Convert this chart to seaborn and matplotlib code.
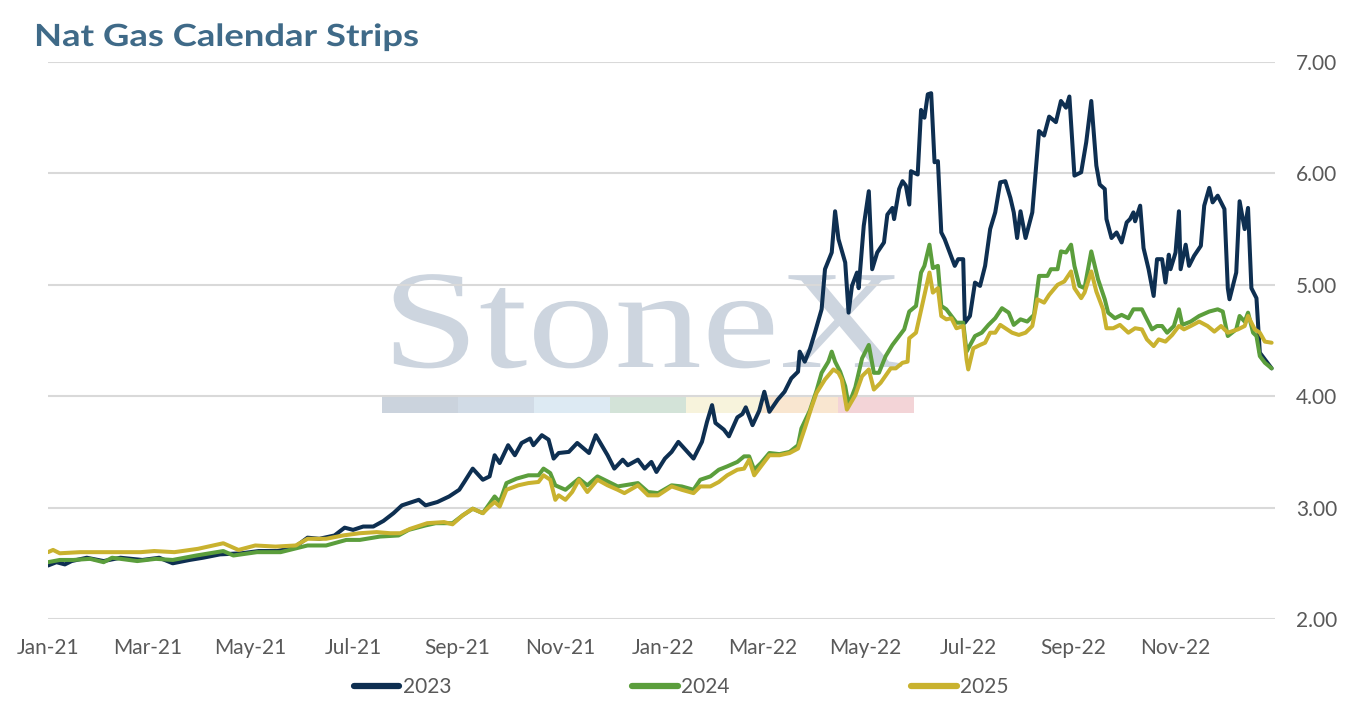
import matplotlib
matplotlib.use("Agg")
import matplotlib.pyplot as plt
import matplotlib.dates as mdates
from matplotlib.patches import Rectangle
from matplotlib.patheffects import AbstractPathEffect
from matplotlib.transforms import Affine2D
import pandas as pd
import seaborn as sns

# ---------------- data ----------------
series_names = ["2023", "2024", "2025"]

dates_2023 = [
    "2021-01-01", "2021-01-06", "2021-01-11", "2021-01-15", "2021-01-24", "2021-02-03", "2021-02-13",
    "2021-02-26", "2021-03-08", "2021-03-16", "2021-03-26", "2021-04-03", "2021-04-13", "2021-04-26",
    "2021-05-06", "2021-05-17", "2021-05-27", "2021-06-04", "2021-06-11", "2021-06-20", "2021-06-26",
    "2021-07-01", "2021-07-07", "2021-07-13", "2021-07-19", "2021-07-25", "2021-07-30", "2021-08-09",
    "2021-08-13", "2021-08-20", "2021-08-27", "2021-09-02", "2021-09-05", "2021-09-10", "2021-09-16",
    "2021-09-20", "2021-09-23", "2021-09-26", "2021-10-01", "2021-10-05", "2021-10-09", "2021-10-14",
    "2021-10-16", "2021-10-21", "2021-10-25", "2021-10-28", "2021-10-31", "2021-11-06", "2021-11-11",
    "2021-11-18", "2021-11-22", "2021-11-29", "2021-12-03", "2021-12-08", "2021-12-11", "2021-12-17",
    "2021-12-21", "2021-12-25", "2021-12-28", "2022-01-02", "2022-01-06", "2022-01-10", "2022-01-19",
    "2022-01-24", "2022-01-27", "2022-01-30", "2022-02-01", "2022-02-06", "2022-02-09", "2022-02-14",
    "2022-02-17", "2022-02-19", "2022-02-23", "2022-02-27", "2022-03-02", "2022-03-05", "2022-03-10",
    "2022-03-14", "2022-03-18", "2022-03-22", "2022-03-23", "2022-03-26", "2022-03-29", "2022-04-01",
    "2022-04-05", "2022-04-07", "2022-04-11", "2022-04-13", "2022-04-15", "2022-04-19", "2022-04-21",
    "2022-04-23", "2022-04-26", "2022-04-27", "2022-04-30", "2022-05-03", "2022-05-05", "2022-05-08",
    "2022-05-12", "2022-05-14", "2022-05-17", "2022-05-18", "2022-05-21", "2022-05-23", "2022-05-25",
    "2022-05-27", "2022-05-28", "2022-06-01", "2022-06-03", "2022-06-05", "2022-06-07", "2022-06-09",
    "2022-06-11", "2022-06-13", "2022-06-15", "2022-06-17", "2022-06-20", "2022-06-23", "2022-06-25",
    "2022-06-28", "2022-06-29", "2022-07-02", "2022-07-05", "2022-07-08", "2022-07-11", "2022-07-14",
    "2022-07-17", "2022-07-20", "2022-07-23", "2022-07-26", "2022-07-28", "2022-07-30", "2022-08-01",
    "2022-08-04", "2022-08-08", "2022-08-10", "2022-08-12", "2022-08-15", "2022-08-18", "2022-08-22",
    "2022-08-25", "2022-08-28", "2022-08-30", "2022-09-02", "2022-09-06", "2022-09-09", "2022-09-12",
    "2022-09-15", "2022-09-17", "2022-09-20", "2022-09-21", "2022-09-24", "2022-09-27", "2022-09-30",
    "2022-10-03", "2022-10-05", "2022-10-07", "2022-10-08", "2022-10-11", "2022-10-13", "2022-10-16",
    "2022-10-19", "2022-10-21", "2022-10-24", "2022-10-26", "2022-10-28", "2022-10-29", "2022-11-01",
    "2022-11-03", "2022-11-04", "2022-11-07", "2022-11-09", "2022-11-12", "2022-11-16", "2022-11-18",
    "2022-11-21", "2022-11-23", "2022-11-26", "2022-11-30", "2022-12-02", "2022-12-03", "2022-12-07",
    "2022-12-09", "2022-12-12", "2022-12-14", "2022-12-16", "2022-12-19", "2022-12-21", "2022-12-24",
    "2022-12-28",
]
values_2023 = [
    2.48, 2.51, 2.49, 2.52, 2.55, 2.52, 2.55,
    2.53, 2.55, 2.50, 2.53, 2.55, 2.58, 2.59,
    2.61, 2.61, 2.64, 2.73, 2.72, 2.75, 2.82,
    2.80, 2.83, 2.83, 2.88, 2.95, 3.02, 3.07,
    3.02, 3.05, 3.10, 3.16, 3.23, 3.35, 3.25,
    3.28, 3.47, 3.40, 3.56, 3.47, 3.58, 3.62,
    3.56, 3.65, 3.61, 3.44, 3.49, 3.50, 3.58,
    3.49, 3.65, 3.47, 3.35, 3.43, 3.38, 3.43,
    3.35, 3.41, 3.32, 3.44, 3.50, 3.59, 3.44,
    3.59, 3.77, 3.92, 3.76, 3.70, 3.64, 3.81,
    3.84, 3.90, 3.74, 3.87, 4.04, 3.86, 3.97,
    4.04, 4.16, 4.22, 4.40, 4.31, 4.42, 4.57,
    4.78, 5.14, 5.29, 5.66, 5.41, 5.20, 4.75,
    4.99, 5.11, 4.97, 5.53, 5.84, 5.14, 5.29,
    5.38, 5.63, 5.69, 5.59, 5.86, 5.93, 5.89,
    5.72, 6.02, 5.99, 6.57, 6.50, 6.71, 6.72,
    6.10, 6.11, 5.47, 5.41, 5.29, 5.17, 5.23,
    5.23, 4.66, 4.72, 5.02, 4.99, 5.17, 5.50,
    5.65, 5.92, 5.93, 5.78, 5.65, 5.42, 5.66,
    5.42, 5.65, 6.01, 6.38, 6.34, 6.51, 6.46,
    6.65, 6.59, 6.69, 5.98, 6.01, 6.28, 6.65,
    6.07, 5.90, 5.86, 5.59, 5.42, 5.47, 5.38,
    5.56, 5.59, 5.65, 5.57, 5.71, 5.33, 5.14,
    4.90, 5.23, 5.23, 5.02, 5.27, 5.14, 5.29,
    5.66, 5.14, 5.36, 5.17, 5.26, 5.35, 5.71,
    5.87, 5.74, 5.80, 5.68, 4.97, 4.87, 5.11,
    5.75, 5.50, 5.69, 4.97, 4.88, 4.39, 4.33,
    4.25,
]

dates_2024 = [
    "2021-01-01", "2021-01-08", "2021-01-16", "2021-01-26", "2021-02-03", "2021-02-08", "2021-02-23",
    "2021-03-06", "2021-03-16", "2021-03-30", "2021-04-15", "2021-04-21", "2021-05-05", "2021-05-19",
    "2021-06-04", "2021-06-15", "2021-06-27", "2021-07-05", "2021-07-17", "2021-07-28", "2021-08-03",
    "2021-08-13", "2021-08-19", "2021-08-29", "2021-09-04", "2021-09-10", "2021-09-16", "2021-09-23",
    "2021-09-26", "2021-09-30", "2021-10-06", "2021-10-13", "2021-10-19", "2021-10-22", "2021-10-26",
    "2021-10-29", "2021-11-04", "2021-11-12", "2021-11-17", "2021-11-23", "2021-12-05", "2021-12-17",
    "2021-12-23", "2021-12-29", "2022-01-06", "2022-01-12", "2022-01-19", "2022-01-23", "2022-01-29",
    "2022-02-03", "2022-02-08", "2022-02-14", "2022-02-18", "2022-02-21", "2022-02-24", "2022-02-28",
    "2022-03-05", "2022-03-11", "2022-03-17", "2022-03-22", "2022-03-24", "2022-03-29", "2022-04-02",
    "2022-04-05", "2022-04-09", "2022-04-11", "2022-04-13", "2022-04-16", "2022-04-19", "2022-04-21",
    "2022-04-25", "2022-04-29", "2022-05-03", "2022-05-06", "2022-05-09", "2022-05-13", "2022-05-17",
    "2022-05-21", "2022-05-24", "2022-05-27", "2022-05-31", "2022-06-03", "2022-06-05", "2022-06-08",
    "2022-06-10", "2022-06-13", "2022-06-15", "2022-06-18", "2022-06-21", "2022-06-24", "2022-06-28",
    "2022-06-30", "2022-07-05", "2022-07-09", "2022-07-13", "2022-07-17", "2022-07-21", "2022-07-25",
    "2022-07-28", "2022-08-01", "2022-08-05", "2022-08-09", "2022-08-12", "2022-08-17", "2022-08-19",
    "2022-08-23", "2022-08-25", "2022-08-28", "2022-08-31", "2022-09-02", "2022-09-05", "2022-09-08",
    "2022-09-12", "2022-09-16", "2022-09-20", "2022-09-22", "2022-09-26", "2022-09-30", "2022-10-04",
    "2022-10-07", "2022-10-12", "2022-10-14", "2022-10-18", "2022-10-21", "2022-10-24", "2022-10-27",
    "2022-10-31", "2022-11-03", "2022-11-05", "2022-11-10", "2022-11-15", "2022-11-21", "2022-11-26",
    "2022-11-29", "2022-12-02", "2022-12-07", "2022-12-09", "2022-12-12", "2022-12-14", "2022-12-17",
    "2022-12-19", "2022-12-21", "2022-12-24", "2022-12-28",
]
values_2024 = [
    2.51, 2.53, 2.53, 2.54, 2.51, 2.55, 2.52,
    2.54, 2.53, 2.57, 2.61, 2.57, 2.60, 2.60,
    2.66, 2.66, 2.71, 2.71, 2.74, 2.75, 2.80,
    2.84, 2.86, 2.86, 2.93, 2.99, 2.95, 3.10,
    3.05, 3.22, 3.26, 3.29, 3.29, 3.35, 3.31,
    3.20, 3.16, 3.26, 3.20, 3.28, 3.19, 3.22,
    3.14, 3.13, 3.20, 3.19, 3.16, 3.25, 3.28,
    3.34, 3.37, 3.41, 3.46, 3.46, 3.34, 3.40,
    3.49, 3.48, 3.50, 3.56, 3.71, 3.87, 4.05,
    4.21, 4.31, 4.40, 4.31, 4.22, 4.09, 3.92,
    4.08, 4.34, 4.46, 4.21, 4.21, 4.36, 4.46,
    4.54, 4.60, 4.76, 4.81, 5.11, 5.17, 5.36,
    5.15, 5.17, 4.81, 4.78, 4.72, 4.66, 4.66,
    4.40, 4.54, 4.57, 4.64, 4.70, 4.79, 4.75,
    4.64, 4.69, 4.67, 4.73, 5.08, 5.08, 5.14,
    5.14, 5.30, 5.29, 5.36, 5.17, 4.99, 4.97,
    5.30, 5.05, 4.87, 4.75, 4.70, 4.73, 4.70,
    4.78, 4.78, 4.72, 4.60, 4.63, 4.63, 4.57,
    4.63, 4.78, 4.64, 4.67, 4.72, 4.76, 4.78,
    4.76, 4.54, 4.60, 4.72, 4.67, 4.75, 4.57,
    4.54, 4.36, 4.30, 4.25,
]

dates_2025 = [
    "2021-01-01", "2021-01-04", "2021-01-08", "2021-01-20", "2021-02-05", "2021-02-25", "2021-03-05",
    "2021-03-17", "2021-03-31", "2021-04-15", "2021-04-24", "2021-05-04", "2021-05-16", "2021-05-28",
    "2021-06-04", "2021-06-15", "2021-06-25", "2021-07-05", "2021-07-15", "2021-07-23", "2021-07-29",
    "2021-08-04", "2021-08-14", "2021-08-24", "2021-08-29", "2021-09-04", "2021-09-10", "2021-09-16",
    "2021-09-20", "2021-09-23", "2021-09-26", "2021-09-30", "2021-10-07", "2021-10-13", "2021-10-19",
    "2021-10-22", "2021-10-26", "2021-10-29", "2021-10-31", "2021-11-04", "2021-11-08", "2021-11-12",
    "2021-11-17", "2021-11-23", "2021-11-29", "2021-12-05", "2021-12-09", "2021-12-17", "2021-12-23",
    "2021-12-29", "2022-01-06", "2022-01-12", "2022-01-19", "2022-01-23", "2022-01-29", "2022-02-03",
    "2022-02-08", "2022-02-14", "2022-02-18", "2022-02-21", "2022-02-24", "2022-02-28", "2022-03-05",
    "2022-03-11", "2022-03-17", "2022-03-22", "2022-03-26", "2022-03-30", "2022-04-02", "2022-04-07",
    "2022-04-12", "2022-04-15", "2022-04-17", "2022-04-20", "2022-04-25", "2022-04-29", "2022-05-03",
    "2022-05-06", "2022-05-10", "2022-05-16", "2022-05-19", "2022-05-23", "2022-05-26", "2022-05-27",
    "2022-05-31", "2022-06-04", "2022-06-08", "2022-06-10", "2022-06-13", "2022-06-15", "2022-06-18",
    "2022-06-21", "2022-06-24", "2022-06-28", "2022-06-30", "2022-07-01", "2022-07-04", "2022-07-08",
    "2022-07-11", "2022-07-14", "2022-07-17", "2022-07-20", "2022-07-23", "2022-07-27", "2022-07-31",
    "2022-08-04", "2022-08-08", "2022-08-11", "2022-08-15", "2022-08-18", "2022-08-23", "2022-08-27",
    "2022-08-31", "2022-09-02", "2022-09-06", "2022-09-08", "2022-09-12", "2022-09-15", "2022-09-19",
    "2022-09-21", "2022-09-25", "2022-09-29", "2022-10-04", "2022-10-08", "2022-10-12", "2022-10-15",
    "2022-10-19", "2022-10-22", "2022-10-26", "2022-10-30", "2022-11-03", "2022-11-06", "2022-11-10",
    "2022-11-15", "2022-11-20", "2022-11-24", "2022-11-28", "2022-12-02", "2022-12-08", "2022-12-12",
    "2022-12-14", "2022-12-18", "2022-12-21", "2022-12-24", "2022-12-28",
]
values_2025 = [
    2.60, 2.62, 2.59, 2.60, 2.60, 2.60, 2.61,
    2.60, 2.63, 2.68, 2.62, 2.66, 2.65, 2.66,
    2.72, 2.72, 2.75, 2.77, 2.78, 2.77, 2.77,
    2.81, 2.86, 2.87, 2.85, 2.93, 2.99, 2.95,
    3.01, 3.05, 3.01, 3.16, 3.20, 3.22, 3.23,
    3.29, 3.25, 3.07, 3.11, 3.07, 3.14, 3.25,
    3.14, 3.25, 3.20, 3.16, 3.13, 3.20, 3.11,
    3.11, 3.19, 3.16, 3.13, 3.19, 3.19, 3.23,
    3.29, 3.34, 3.35, 3.43, 3.29, 3.37, 3.47,
    3.47, 3.49, 3.53, 3.71, 3.90, 4.03, 4.15,
    4.24, 4.21, 4.15, 3.88, 4.01, 4.18, 4.24,
    4.06, 4.12, 4.25, 4.25, 4.30, 4.31, 4.52,
    4.57, 4.84, 5.11, 4.93, 4.97, 4.72, 4.69,
    4.70, 4.61, 4.63, 4.33, 4.24, 4.43, 4.46,
    4.48, 4.57, 4.57, 4.64, 4.61, 4.57, 4.55,
    4.57, 4.63, 4.87, 4.84, 4.91, 5.00, 5.03,
    5.12, 4.97, 4.88, 4.93, 5.12, 4.94, 4.78,
    4.61, 4.61, 4.64, 4.57, 4.61, 4.60, 4.51,
    4.45, 4.51, 4.49, 4.55, 4.63, 4.60, 4.63,
    4.67, 4.63, 4.58, 4.63, 4.57, 4.60, 4.63,
    4.72, 4.60, 4.57, 4.49, 4.48,
]

y_ticks = [2.0, 3.0, 4.0, 5.0, 6.0, 7.0]
title_text = "Nat Gas Calendar Strips"
watermark_text = "StoneX"

# ---------------- build frame ----------------
frames = []
for name, d, v in [("2023", dates_2023, values_2023),
                   ("2024", dates_2024, values_2024),
                   ("2025", dates_2025, values_2025)]:
    frames.append(pd.DataFrame({"date": pd.to_datetime(d), "value": v, "series": name}))
df = pd.concat(frames, ignore_index=True)


class StretchX(AbstractPathEffect):
    """Draw text horizontally stretched about a fixed display x position."""

    def __init__(self, sx, x0):
        super().__init__()
        self.sx = sx
        self.x0 = x0

    def draw_path(self, renderer, gc, tpath, affine, rgbFace=None):
        t = affine + Affine2D().translate(-self.x0, 0).scale(self.sx, 1.0).translate(self.x0, 0)
        renderer.draw_path(gc, tpath, t, rgbFace)


# ---------------- styling ----------------
sns.set_style("white")
plt.rcParams["font.family"] = ["Lato", "DejaVu Sans"]

palette = {"2023": "#0E2F51", "2024": "#5B9E3C", "2025": "#C9B22F"}
label_color = "#595959"

W, H = 1354, 708
fig = plt.figure(figsize=(W / 100, H / 100), dpi=100)
fig.patch.set_facecolor("white")
ax = fig.add_axes([48 / W, 1 - 619 / H, (1275 - 48) / W, (619 - 62) / H])
ax.set_facecolor("white")

# watermark (behind gridlines and lines)
wm = ax.text(382 / W, 1 - 367 / H, watermark_text, transform=fig.transFigure,
             family=["Liberation Serif", "DejaVu Serif"], fontsize=101,
             color="#CDD5DF", ha="left", va="baseline", zorder=0.3)
fig.canvas.draw()
wm_w = wm.get_window_extent().width
wm.set_path_effects([StretchX((905 - 382) / wm_w, 382)])

bar_colors = ["#CBD3DD", "#D1DBE6", "#DDEAF3", "#D3E3D8", "#F7F3DC", "#F9E6D0", "#F3D4D7"]
seg_w = 76
for i, c in enumerate(bar_colors):
    ax.add_patch(Rectangle(((382 + i * seg_w) / W, 1 - 413 / H), seg_w / W, 16 / H,
                           transform=fig.transFigure, facecolor=c, edgecolor="none",
                           zorder=0.3, clip_on=False))

sns.lineplot(data=df, x="date", y="value", hue="series", hue_order=series_names,
             palette=palette, linewidth=2.9, estimator=None, sort=True, ax=ax,
             legend=True, zorder=3)

ax.set_ylim(2.0, 7.0)
ax.set_xlim(pd.Timestamp("2021-01-01"), pd.Timestamp("2022-12-30"))
ax.set_yticks(y_ticks)
ax.yaxis.set_major_formatter(matplotlib.ticker.FormatStrFormatter("%.2f"))
ax.yaxis.tick_right()
ax.xaxis.set_major_locator(mdates.MonthLocator(bymonth=[1, 3, 5, 7, 9, 11]))
ax.xaxis.set_major_formatter(mdates.DateFormatter("%b-%y"))
ax.tick_params(axis="y", length=0, pad=15, labelsize=15, labelcolor=label_color)
ax.tick_params(axis="x", length=0, pad=14, labelsize=15, labelcolor=label_color)
ax.grid(axis="y", color="#D9D9D9", linewidth=1.5, zorder=0.5)
ax.grid(axis="x", visible=False)
ax.set_axisbelow(True)
for s in ax.spines.values():
    s.set_visible(False)
ax.set_xlabel("")
ax.set_ylabel("")

handles, labels = ax.get_legend_handles_labels()
if ax.get_legend() is not None:
    ax.get_legend().remove()
for h in handles:
    h.set_linewidth(4.5)
    h.set_solid_capstyle("round")
fig.legend(handles, labels, loc="center", bbox_to_anchor=(681 / W, 1 - 687 / H),
           ncol=3, frameon=False, fontsize=15, handlelength=2.2, handletextpad=0.15,
           columnspacing=8.7, labelcolor=label_color)

ttl = fig.text(34 / W, 1 - 46 / H, title_text, fontsize=22, fontweight="bold",
               color="#3F6A88", ha="left", va="baseline")
fig.canvas.draw()
ttl_w = ttl.get_window_extent().width
ttl.set_path_effects([StretchX((418 - 34) / ttl_w, 34)])

fig.savefig("out.png", dpi=100, facecolor="white")
